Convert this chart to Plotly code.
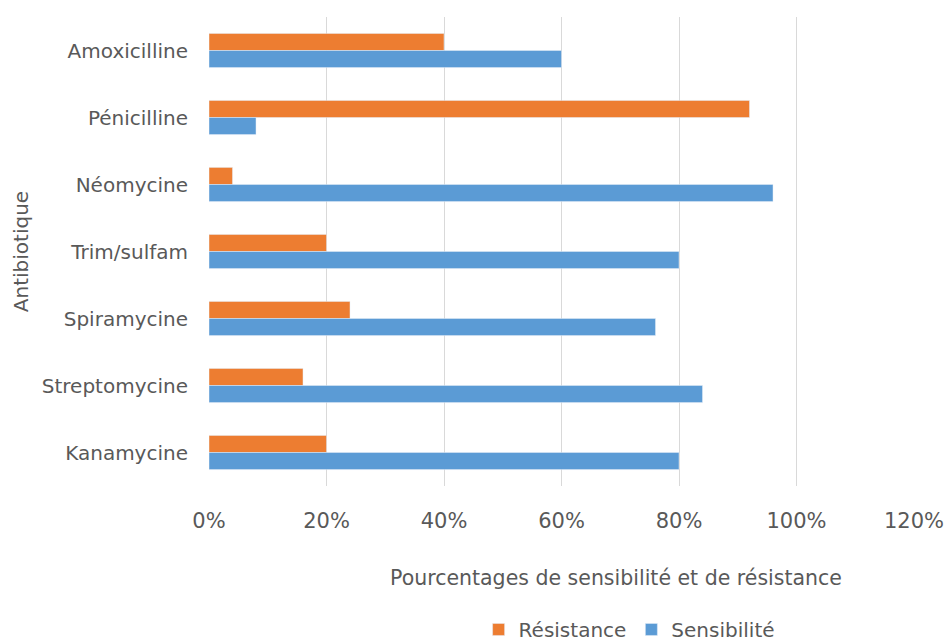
import plotly.graph_objects as go

antibiotiques = ["Amoxicilline", "Pénicilline", "Néomycine", "Trim/sulfam",
                 "Spiramycine", "Streptomycine", "Kanamycine"]
resistance = [0.40, 0.92, 0.04, 0.20, 0.24, 0.16, 0.20]
sensibilite = [0.60, 0.08, 0.96, 0.80, 0.76, 0.84, 0.80]
x_ticks = [0, 0.2, 0.4, 0.6, 0.8, 1.0, 1.2]

font_family = "DejaVu Sans, sans-serif"
gray = "#595959"

fig = go.Figure()
fig.add_trace(go.Bar(y=antibiotiques, x=resistance, orientation="h",
                     name="Résistance", marker_color="#ED7D31"))
fig.add_trace(go.Bar(y=antibiotiques, x=sensibilite, orientation="h",
                     name="Sensibilité", marker_color="#5B9BD5"))

fig.update_layout(
    width=946, height=641,
    margin=dict(l=209, r=32, t=17, b=70),
    paper_bgcolor="white", plot_bgcolor="white",
    barmode="group", bargap=0.49, bargroupgap=0,
    font=dict(family=font_family, color=gray, size=20),
    showlegend=True,
    legend=dict(orientation="h", xref="container", yref="container",
                x=0.665, xanchor="center", y=0.018, yanchor="middle",
                font=dict(size=20), itemwidth=30, traceorder="normal"),
    xaxis=dict(range=[0, 1.2], tickvals=x_ticks, tickformat=".0%",
               showgrid=True, gridcolor="#d9d9d9", gridwidth=1,
               zeroline=False, showline=False, ticks="", automargin=False,
               tickfont=dict(size=21, color=gray), ticklabelstandoff=20),
    yaxis=dict(domain=[0.1534, 1], autorange="reversed", showgrid=False,
               zeroline=False, showline=False, ticks="", ticklabelstandoff=20,
               automargin=False, tickfont=dict(size=20, color=gray),
               title=dict(text="Antibiotique", font=dict(size=20, color=gray),
                          standoff=7)),
)

fig.add_annotation(text="Pourcentages de sensibilité et de résistance",
                   xref="paper", yref="paper", x=0.578, y=-0.0126,
                   xanchor="center", yanchor="middle", showarrow=False,
                   font=dict(size=20.5, color=gray))

fig.write_html("out.html")
